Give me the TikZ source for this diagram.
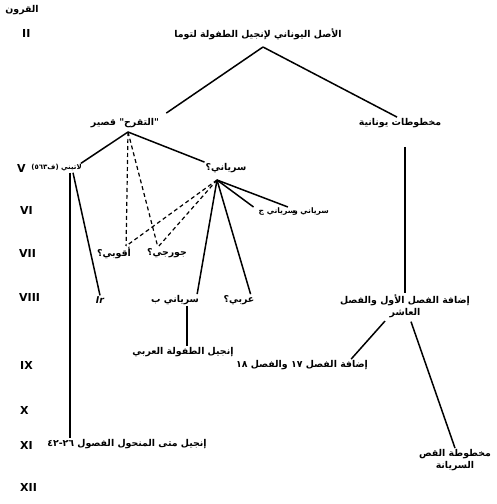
\documentclass[tikz,border=0pt]{standalone}
\usepackage{fontspec}
\setmainfont{DejaVu Sans}
\newfontfamily\arabicfont[Script=Arabic]{DejaVu Sans}
\TeXXeTstate=1
\newcommand{\artxt}[1]{{\arabicfont\beginR #1\endR}}
\begin{document}
\begin{tikzpicture}[x=1pt,y=-1pt,
    lbl/.style={inner sep=1pt,font=\bfseries\fontsize{9.4}{12}\selectfont},
    lbls/.style={lbl,font=\bfseries\fontsize{7.6}{10}\selectfont},
    cent/.style={inner sep=1pt,anchor=west,font=\bfseries\fontsize{11}{12}\selectfont},
    link/.style={line width=1.5pt},
    dlink/.style={line width=1.2pt,dash pattern=on 4pt off 3pt}]
  \useasboundingbox (0,0) rectangle (496,504);
  \node[lbl] (qurun) at (22,10) {\artxt{القرون}};
  \node[cent] (c2) at (21,33) {II};
  \node[cent] (c5) at (16,168) {V};
  \node[cent] (c6) at (19,210) {VI};
  \node[cent] (c7) at (18,253) {VII};
  \node[cent] (c8) at (18,297) {VIII};
  \node[cent] (c9) at (19,365) {IX};
  \node[cent] (c10) at (19,410) {X};
  \node[cent] (c11) at (19,445) {XI};
  \node[cent] (c12) at (19,487) {XII};

  \node[lbl] (title) at (258,34) {\artxt{الأصل اليوناني لإنجيل الطفولة لتوما}};
  \node[lbl] (tq) at (125,123) {\artxt{"التقرح" قصير}};
  \node[lbl] (greek) at (400,123) {\artxt{مخطوطات يونانية}};
  \node[lbls,anchor=east,font=\bfseries\fontsize{7}{9}\selectfont] (lat) at (83,168) {\artxt{لاتيني (ف٥٦٣)}};
  \node[lbl] (syr) at (226,168) {\artxt{سرياني؟}};
  \node[lbls] (syrg) at (277,212) {\artxt{سرياني ج}};
  \node[lbls] (syrw) at (311,212) {\artxt{سرياني و}};
  \node[lbl] (eth) at (114,253) {\artxt{أقوبي؟}};
  \node[lbl] (geo) at (167,253) {\artxt{جورجي؟}};
  \node[lbl] (ir) at (100,300) {\itshape Ir};
  \node[lbl] (syrb) at (175,300) {\artxt{سرياني ب}};
  \node[lbl] (arab) at (239,300) {\artxt{عربي؟}};
  \node[lbl,align=center] (add1) at (405,306) {\artxt{إضافة الفصل الأول والفصل}\\\artxt{العاشر}};
  \node[lbl] (arabinf) at (183,352) {\artxt{إنجيل الطفولة العربي}};
  \node[lbl] (add17) at (302,365) {\artxt{إضافة الفصل ١٧ والفصل ١٨}};
  \node[lbl] (pmt) at (127,444) {\artxt{إنجيل متى المنحول الفصول ٢٦-٤٢}};
  \node[lbl,align=center] (sinai) at (455,460) {\artxt{مخطوطة القص}\\\artxt{السريانة}};

  \coordinate (jt) at (263,47);
  \coordinate (jq) at (128,132);
  \coordinate (js) at (217,180);

  \draw[link] (jt) -- ([shift={(6pt,4pt)}]tq.north east);
  \draw[link] (jt) -- ([xshift=-3pt]greek.north);
  \draw[link,shorten <=18pt] (greek.south -| add1.north) -- (add1.north);
  \draw[link] (jq) -- ([xshift=-2pt]lat.north east);
  \draw[link] (jq) -- (syr.north west);
  \draw[dlink] (jq) -- ([xshift=-6pt]eth.north east);
  \draw[dlink] (jq) -- ([xshift=12pt]geo.north west);
  \draw[dlink] (js) -- ([xshift=-6pt]eth.north east);
  \draw[dlink] (js) -- ([xshift=12pt]geo.north west);
  \draw[link] (js) -- ([xshift=-4pt]syrg.north west);
  \draw[link] (js) -- ([xshift=-4pt]syrw.north west);
  \draw[link] (js) -- ([xshift=-3pt]syrb.north east);
  \draw[link] (js) -- ([xshift=-5pt]arab.north east);
  \draw[link] ([xshift=-13pt]lat.south east) -- ([xshift=-13pt]lat.south east |- pmt.north);
  \draw[link] ([xshift=-10pt]lat.south east) -- (ir.north);
  \draw[link] ([xshift=12pt]syrb.south) -- ([xshift=12pt]syrb.south |- arabinf.north);
  \draw[link,shorten <=3pt] ([xshift=-18pt]add1.south) -- ([xshift=-18pt]add17.north east);
  \draw[link,shorten <=3pt] ([xshift=5pt]add1.south) -- (sinai.north);
\end{tikzpicture}
\end{document}
